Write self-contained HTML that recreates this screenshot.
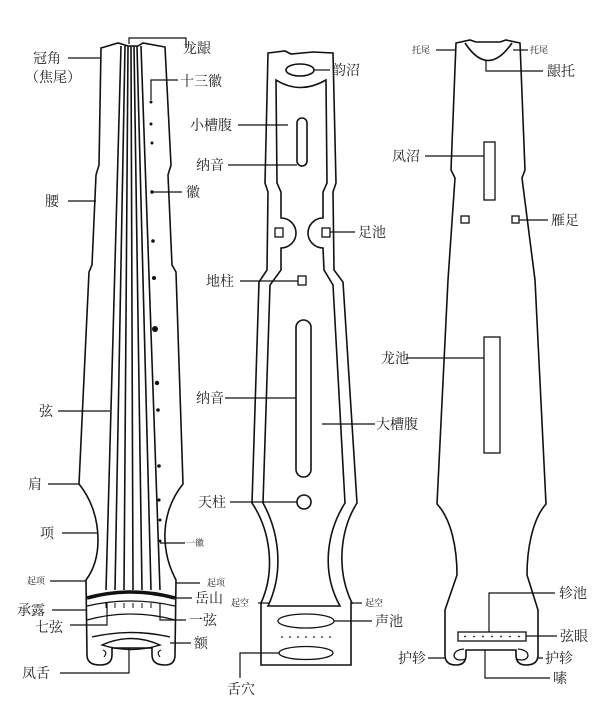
<!DOCTYPE html>
<html><head><meta charset="utf-8"><style>
html,body{margin:0;padding:0;background:#fff;}
svg{display:block}
text{font-family:"Liberation Serif","Noto Serif CJK SC","Noto Sans CJK SC",serif;fill:#222;font-size:14px}
.s{font-size:9px}
</style></head><body>
<svg width="613" height="708" viewBox="0 0 613 708" xmlns="http://www.w3.org/2000/svg">
<g fill="none" stroke="#111" stroke-width="1.6">
<!-- LEFT INSTRUMENT -->
<path d="M101,48 L118,43 L128,46 L138,46 L143,43 L165,47 L171,165 L168,175 L172,265 L176,272 L183,484 C170,500 164,520 165,540 C166,560 172,572 176,580 L175,655 Q175,665 165,665 Q152,665 152,655 L152,648 L112,648 L112,655 Q112,665 100,665 Q87,665 87,655 L86,580 C92,572 98,560 98,540 C98,520 92,500 79,484 L89,272 L92,265 L96,175 L99,165 Z"/>
<path d="M160,657 Q156,652 161,650" stroke-width="1.2"/>
<path d="M104,657 Q108,652 103,650" stroke-width="1.2"/>
<path d="M121,46 L106,590 M125,46 L115,590 M128,46 L124,590 M131,46 L133,590 M134,46 L142,590 M137,46 L151,590 M141,46 L160,590"/>
<path d="M87,598 Q131,586 175,598" stroke-width="3.5"/>
<path d="M87,606 Q131,596 175,606" stroke-width="1.2"/>
<path d="M87,620 Q131,608 175,620" stroke-width="1.2"/>
<path d="M92,637 Q131,628 170,637" stroke-width="1.4"/>
<path d="M102,645 Q131,632 160,645 Q131,654 102,645 Z" stroke-width="1.4"/>
<path d="M106,603 L106,608 M115,603 L115,608 M124,603 L124,608 M133,603 L133,608 M142,603 L142,608 M151,603 L151,608 M160,603 L160,608" stroke-width="1"/>
<!-- MIDDLE INSTRUMENT outer -->
<path d="M268,53 L285,51 L291,54 L313,52 L333,53 L336,183 L333,192 L334,270 L343,282 L357,503 C340,530 336,570 352,603 L351,603 L351,665 L261,665 L261,603 C276,570 270,530 252,503 L259,282 L267,270 L268,192 L265,183 Z"/>
<!-- middle inner -->
<path d="M276,80 Q300,95 326,80 L327,183 L323,192 L323,218 A15,15 0 0 0 323,248 L324,270 L333,285 L345,503 C328,530 320,570 340,606 L268,606 C285,570 278,530 263,503 L270,285 L281,270 L281,248 A15,15 0 0 0 281,218 L281,192 L277,183 Z"/>
<ellipse cx="300" cy="70" rx="14" ry="6"/>
<rect x="297" y="118" width="10" height="48" rx="5"/>
<rect x="296" y="320" width="15" height="157" rx="7.5"/>
<rect x="275" y="228" width="8" height="9" stroke-width="1.3"/>
<rect x="322" y="228" width="8" height="9" stroke-width="1.3"/>
<rect x="298" y="276" width="8" height="9" stroke-width="1.3"/>
<circle cx="304" cy="502" r="7"/>
<ellipse cx="306" cy="621" rx="28" ry="7" stroke-width="1.3"/>
<ellipse cx="306" cy="653" rx="27" ry="6.5" stroke-width="1.3"/>
<!-- RIGHT INSTRUMENT -->
<path d="M456,43 L470,40 L476,42 L500,42 L506,40 L520,43 L525,170 L522,178 L535,280 L546,504 C532,520 527,550 527,575 L538,610 L538,655 Q538,665 526,665 Q516,665 516,655 L516,650 L466,650 L466,655 Q466,665 456,665 Q445,665 445,655 L445,610 L457,575 C457,550 452,520 437,504 L448,280 L455,178 L451,170 Z"/>
<path d="M465,43 Q488,78 512,43" />
<rect x="484" y="142" width="11" height="58" stroke-width="1.3"/>
<rect x="484" y="337" width="16" height="116" stroke-width="1.3"/>
<rect x="461" y="216" width="8" height="7" stroke-width="1.3"/>
<rect x="512" y="216" width="7" height="7" stroke-width="1.3"/>
<rect x="458" y="632" width="68" height="9" stroke-width="1.3"/>
<path d="M464,649 Q454,650 454,656 Q456,662 466,659" stroke-width="1.3"/>
<path d="M518,649 Q528,650 528,656 Q526,662 516,659" stroke-width="1.3"/>
</g>
<g fill="#111">
<circle cx="151" cy="102" r="1.5"/><circle cx="151" cy="124" r="1.5"/><circle cx="152" cy="143" r="1.5"/><circle cx="152" cy="192" r="1.7"/><circle cx="153" cy="241" r="1.8"/><circle cx="154" cy="278" r="2"/><circle cx="155" cy="329" r="3"/><circle cx="157" cy="383" r="2.2"/><circle cx="158" cy="410" r="1.8"/><circle cx="159" cy="466" r="1.8"/><circle cx="159" cy="500" r="1.6"/><circle cx="160" cy="520" r="1.5"/><circle cx="160" cy="541" r="1.5"/>
<circle cx="282" cy="637" r=".9"/><circle cx="290" cy="637" r=".9"/><circle cx="298" cy="637" r=".9"/><circle cx="306" cy="637" r=".9"/><circle cx="314" cy="637" r=".9"/><circle cx="322" cy="637" r=".9"/><circle cx="330" cy="637" r=".9"/>
<circle cx="465" cy="636.5" r=".9"/><circle cx="474" cy="636.5" r=".9"/><circle cx="483" cy="636.5" r=".9"/><circle cx="492" cy="636.5" r=".9"/><circle cx="501" cy="636.5" r=".9"/><circle cx="510" cy="636.5" r=".9"/><circle cx="519" cy="636.5" r=".9"/>
</g>
<g fill="none" stroke="#111" stroke-width="1.2">
<path d="M68,58 L100,58"/>
<path d="M129,44 L129,38 L186,38 L186,48"/>
<path d="M151,100 L151,80 L178,80"/>
<path d="M152,192 L182,192"/>
<path d="M68,201 L96,201"/>
<path d="M58,411 L110,411"/>
<path d="M48,484 L79,484"/>
<path d="M62,533 L97,533"/>
<path d="M160,543 L185,543"/>
<path d="M50,581 L86,581"/>
<path d="M176,583 L200,583"/>
<path d="M52,610 L87,610"/>
<path d="M70,625 L107,625 L107,603"/>
<path d="M175,598 L192,598"/>
<path d="M160,603 L160,620 L186,620"/>
<path d="M170,643 L191,643"/>
<path d="M60,673 L129,673 L129,648"/>
<path d="M314,70 L330,70"/>
<path d="M238,125 L288,125"/>
<path d="M228,165 L297,165"/>
<path d="M330,232 L355,232"/>
<path d="M240,281 L298,281"/>
<path d="M225,398 L296,398"/>
<path d="M322,424 L375,424"/>
<path d="M230,502 L297,502"/>
<path d="M258,603 L270,603"/>
<path d="M352,603 L362,603"/>
<path d="M334,621 L372,621"/>
<path d="M240,678 L240,653 L279,653"/>
<path d="M436,50 L456,50"/>
<path d="M513,50 L528,50"/>
<path d="M486,60 L486,71 L543,71"/>
<path d="M425,156 L484,156"/>
<path d="M519,220 L548,220"/>
<path d="M406,358 L484,358"/>
<path d="M489,632 L489,593 L555,593"/>
<path d="M526,636 L557,636"/>
<path d="M428,658 L445,658"/>
<path d="M538,658 L543,658"/>
<path d="M485,650 L485,678 L550,678"/>
</g>
<g>
<text x="33" y="63">冠角</text>
<text x="25" y="82">（焦尾）</text>
<text x="183" y="53">龙龈</text>
<text x="180" y="86">十三徽</text>
<text x="186" y="197">徽</text>
<text x="45" y="206">腰</text>
<text x="39" y="416">弦</text>
<text x="28" y="489">肩</text>
<text x="40" y="538">项</text>
<text class="s" x="186" y="546">一徽</text>
<text class="s" x="27" y="584">起项</text>
<text class="s" x="207" y="586">起项</text>
<text x="195" y="603">岳山</text>
<text x="17" y="615">承露</text>
<text x="35" y="632">七弦</text>
<text x="189" y="625">一弦</text>
<text x="194" y="648">额</text>
<text x="22" y="678">凤舌</text>
<text x="332" y="75">韵沼</text>
<text x="190" y="130">小槽腹</text>
<text x="196" y="170">纳音</text>
<text x="358" y="237">足池</text>
<text x="206" y="286">地柱</text>
<text x="196" y="403">纳音</text>
<text x="376" y="429">大槽腹</text>
<text x="198" y="507">天柱</text>
<text class="s" x="231" y="606">起空</text>
<text class="s" x="365" y="606">起空</text>
<text x="375" y="626">声池</text>
<text x="227" y="694">舌穴</text>
<text class="s" x="412" y="53">托尾</text>
<text class="s" x="530" y="53">托尾</text>
<text x="547" y="76">龈托</text>
<text x="392" y="161">凤沼</text>
<text x="551" y="225">雁足</text>
<text x="381" y="363">龙池</text>
<text x="559" y="598">轸池</text>
<text x="560" y="641">弦眼</text>
<text x="398" y="663">护轸</text>
<text x="545" y="663">护轸</text>
<text x="553" y="683">嗉</text>
</g>
</svg>
</body></html>
